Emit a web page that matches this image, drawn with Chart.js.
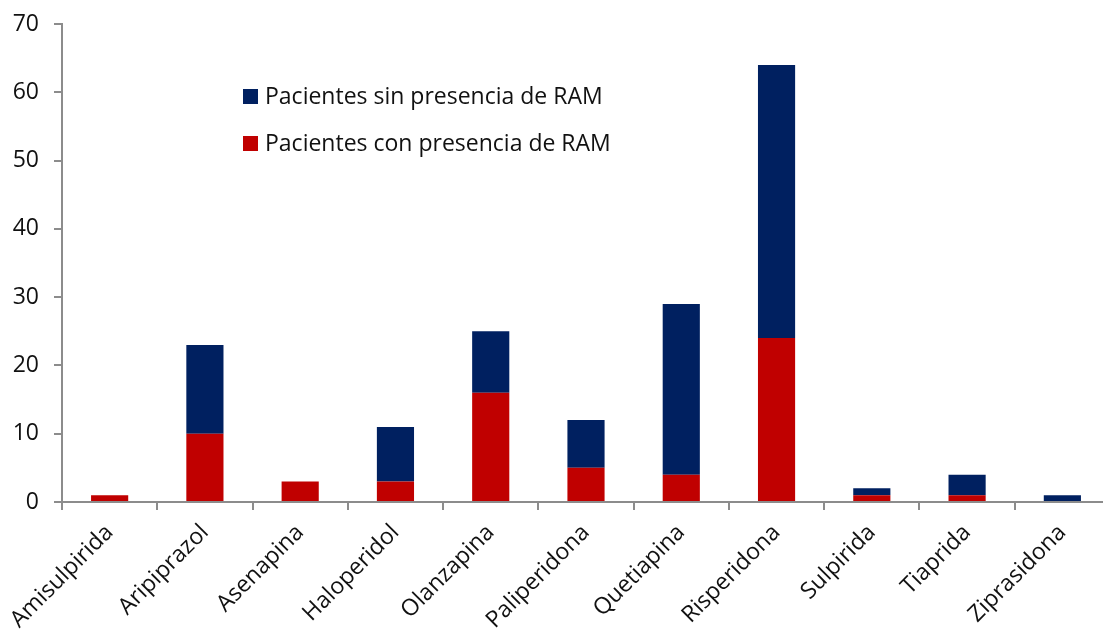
<!DOCTYPE html>
<html>
<head>
<meta charset="utf-8">
<script src="https://cdn.jsdelivr.net/npm/chart.js@4/dist/chart.umd.min.js"></script>
<style>
  html, body { margin: 0; padding: 0; background: #fff; overflow: hidden; }
  #wrap { position: relative; width: 1112px; height: 629px; }
</style>
</head>
<body>
<div id="wrap"><canvas id="c" width="1112" height="629"></canvas></div>
<script>
const categories = ['Amisulpirida', 'Aripiprazol', 'Asenapina', 'Haloperidol', 'Olanzapina',
  'Paliperidona', 'Quetiapina', 'Risperidona', 'Sulpirida', 'Tiaprida', 'Ziprasidona'];
const conRAM = [1, 10, 3, 3, 16, 5, 4, 24, 1, 1, 0];
const sinRAM = [0, 13, 0, 8, 9, 7, 25, 40, 1, 3, 1];
const yTicks = [0, 10, 20, 30, 40, 50, 60, 70];

const FONT = '"Open Sans", "DejaVu Sans", sans-serif';
const AXIS = '#8c8c8c';

// Legend drawn inside the plot area, "sin" entry listed first
const innerLegend = {
  id: 'innerLegend',
  afterDraw(chart) {
    const ctx = chart.ctx;
    const items = [chart.data.datasets[1], chart.data.datasets[0]];
    ctx.save();
    ctx.font = '23px ' + FONT;
    ctx.textBaseline = 'middle';
    ctx.textAlign = 'left';
    items.forEach((ds, i) => {
      const y = 96 + i * 47;
      ctx.fillStyle = ds.backgroundColor;
      ctx.fillRect(243, y - 7, 15, 15);
      ctx.fillStyle = '#111';
      ctx.fillText(ds.label, 265, y + 1);
    });
    ctx.restore();
  }
};

new Chart(document.getElementById('c'), {
  type: 'bar',
  data: {
    labels: categories,
    datasets: [
      { label: 'Pacientes con presencia de RAM', data: conRAM, backgroundColor: '#c00000',
        barPercentage: 0.39, categoryPercentage: 1 },
      { label: 'Pacientes sin presencia de RAM', data: sinRAM, backgroundColor: '#002060',
        barPercentage: 0.39, categoryPercentage: 1 }
    ]
  },
  options: {
    responsive: false,
    animation: false,
    layout: { padding: { top: 24, right: 2, left: 0, bottom: 0 } },
    plugins: { legend: { display: false }, tooltip: { enabled: false } },
    scales: {
      x: {
        stacked: true,
        offset: true,
        grid: { offset: true, drawOnChartArea: false, drawTicks: true, tickLength: 8, color: AXIS, lineWidth: 2 },
        border: { color: AXIS, width: 2 },
        ticks: { color: '#111', font: { family: FONT, size: 23 }, minRotation: 45, maxRotation: 45, autoSkip: false, padding: 9 },
        afterFit(s) { s.height = 127; }
      },
      y: {
        stacked: true,
        min: 0, max: 70,
        afterBuildTicks(s) { s.ticks = yTicks.map(v => ({ value: v })); },
        grid: { drawOnChartArea: false, drawTicks: true, tickLength: 8, color: AXIS, lineWidth: 2 },
        border: { color: AXIS, width: 2 },
        ticks: { color: '#111', font: { family: FONT, size: 23 }, padding: 15 },
        afterFit(s) { s.width = 62; s.paddingTop = 0; s.paddingBottom = 0; }
      }
    }
  },
  plugins: [innerLegend]
});
</script>
</body>
</html>
